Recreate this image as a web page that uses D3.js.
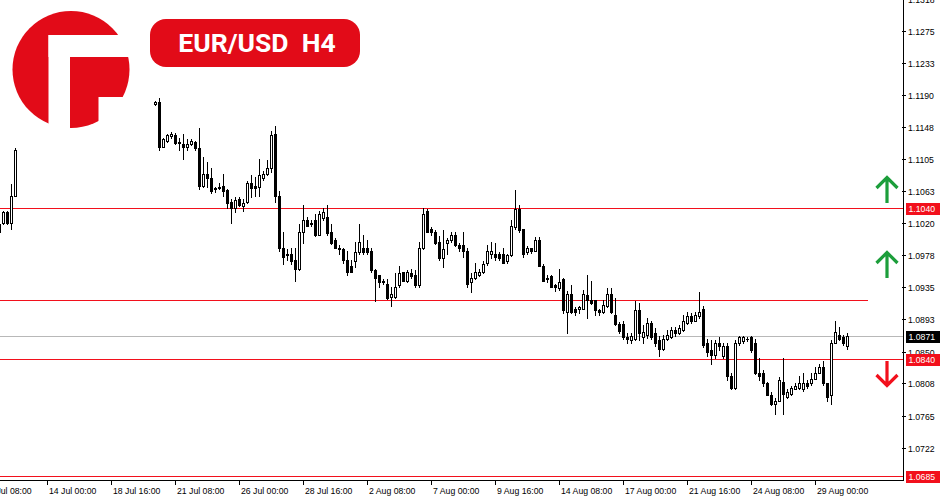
<!DOCTYPE html>
<html><head><meta charset="utf-8">
<script src="https://cdn.jsdelivr.net/npm/d3@7"></script>
<style>
html,body{margin:0;padding:0;background:#fff;}
svg{display:block;}
</style></head><body>
<svg id="chart" width="950" height="500"></svg>
<script>
// ---------------- data ----------------
const symbolTitle = "EUR/USD  H4";
const segmentStarts = ["2023-07-12 00:00", "2023-07-20 12:00"];
const segmentLengths = [5, 174];

const open = [
  1.1019,1.1020,1.1035,1.1020,1.1057,
  1.1179,1.1181,1.1122,1.1129,1.1136,1.1137,1.1128,1.1125,1.1121,1.1125,
  1.1128,1.1120,1.1069,1.1085,1.1080,1.1067,1.1068,1.1069,1.1064,1.1048,
  1.1040,1.1052,1.1043,1.1048,1.1073,1.1069,1.1068,1.1080,1.1086,1.1094,
  1.1138,1.1057,1.0988,1.0979,1.0979,1.0971,1.0960,1.1008,1.1024,1.1021,
  1.1025,1.1004,1.1027,1.1028,1.1008,1.0998,1.0988,1.0986,1.0972,1.0964,
  1.0970,1.0982,1.0988,1.0988,1.0983,1.0958,1.0951,1.0944,1.0939,1.0922,
  1.0922,1.0938,1.0955,1.0943,1.0954,1.0951,1.0938,1.0987,1.1036,1.1013,
  1.1008,1.0995,1.0974,1.0994,1.0998,1.1005,1.0991,1.0991,1.0984,1.0942,
  1.0947,1.0951,1.0955,1.0967,1.0980,1.0980,1.0979,1.0979,1.0970,1.0978,
  1.1015,1.1039,1.1012,1.0982,1.0987,1.0984,1.0998,1.0964,1.0948,1.0950,
  1.0938,1.0934,1.0946,1.0902,1.0927,1.0906,1.0906,1.0907,1.0925,1.0918,
  1.0918,1.0905,1.0902,1.0910,1.0926,1.0899,1.0886,1.0887,1.0870,1.0866,
  1.0867,1.0905,1.0869,1.0872,1.0888,1.0874,1.0865,1.0854,1.0867,1.0869,
  1.0878,1.0874,1.0878,1.0888,1.0897,1.0891,1.0897,1.0907,1.0862,1.0852,
  1.0845,1.0861,1.0844,1.0858,1.0818,1.0802,1.0861,1.0864,1.0867,1.0870,
  1.0862,1.0821,1.0821,1.0808,1.0793,1.0781,1.0785,1.0810,1.0790,1.0794,
  1.0801,1.0802,1.0800,1.0809,1.0808,1.0814,1.0822,1.0830,1.0808,1.0792,
  1.0862,1.0872,1.0869,1.0857
];
const high = [
  1.1021,1.1036,1.1036,1.1072,1.1120,
  1.1183,1.1186,1.1133,1.1138,1.1141,1.1140,1.1133,1.1138,1.1132,1.1132,
  1.1129,1.1146,1.1108,1.1102,1.1093,1.1068,1.1073,1.1085,1.1065,1.1052,
  1.1055,1.1055,1.1053,1.1076,1.1084,1.1081,1.1105,1.1089,1.1104,1.1142,
  1.1149,1.1063,1.1008,1.0986,1.0987,1.0988,1.1019,1.1045,1.1028,1.1025,
  1.1033,1.1036,1.1040,1.1044,1.1019,1.1000,1.0991,1.0987,1.0983,1.0972,
  1.0995,1.1019,1.1004,1.0998,1.0988,1.0960,1.0952,1.0946,1.0946,1.0935,
  1.0954,1.0963,1.0956,1.0958,1.0960,1.0958,1.0996,1.1040,1.1039,1.1015,
  1.1011,1.1003,1.1011,1.1000,1.1008,1.1008,1.0994,1.1008,1.0987,1.0954,
  1.0968,1.0960,1.0970,1.0991,1.0995,1.0994,1.0982,1.0988,1.0979,1.1024,
  1.1064,1.1044,1.1013,1.0990,1.0988,1.1002,1.1002,1.0966,1.0951,1.0952,
  1.0939,1.0959,1.0947,1.0931,1.0938,1.0909,1.0911,1.0932,1.0951,1.0944,
  1.0919,1.0907,1.0918,1.0934,1.0934,1.0921,1.0889,1.0891,1.0874,1.0875,
  1.0917,1.0915,1.0885,1.0895,1.0891,1.0881,1.0871,1.0872,1.0878,1.0883,
  1.0882,1.0885,1.0899,1.0902,1.0901,1.0903,1.0929,1.0910,1.0867,1.0865,
  1.0865,1.0869,1.0862,1.0861,1.0822,1.0865,1.0871,1.0871,1.0870,1.0871,
  1.0867,1.0841,1.0825,1.0810,1.0796,1.0788,1.0816,1.0841,1.0800,1.0805,
  1.0809,1.0818,1.0821,1.0812,1.0821,1.0829,1.0834,1.0838,1.0809,1.0865,
  1.0890,1.0883,1.0872,1.0875
];
const low = [
  1.1003,1.1019,1.1019,1.1012,1.1056,
  1.1177,1.1118,1.1121,1.1128,1.1133,1.1125,1.1117,1.1106,1.1118,1.1124,
  1.1118,1.1065,1.1068,1.1068,1.1060,1.1061,1.1065,1.1057,1.1040,1.1020,
  1.1035,1.1043,1.1036,1.1047,1.1055,1.1056,1.1057,1.1077,1.1084,1.1088,
  1.1048,1.0983,1.0966,1.0972,1.0966,1.0943,1.0958,1.0994,1.1016,1.1017,
  1.1003,1.1004,1.1025,1.1005,1.0993,1.0987,1.0979,1.0968,1.0952,1.0955,
  1.0962,1.0980,1.0979,1.0980,1.0956,1.0917,1.0936,1.0939,1.0920,1.0910,
  1.0921,1.0936,1.0943,1.0942,1.0948,1.0936,1.0935,1.0986,1.1008,1.1005,
  1.0993,1.0971,1.0962,1.0980,1.0996,1.0990,1.0983,1.0975,1.0935,1.0929,
  1.0946,1.0950,1.0954,1.0965,1.0974,1.0972,1.0972,1.0967,1.0968,1.0977,
  1.1013,1.1008,1.0975,1.0980,1.0981,1.0983,1.0963,1.0943,1.0942,1.0935,
  1.0931,1.0932,1.0901,1.0874,1.0901,1.0899,1.0901,1.0906,1.0895,1.0913,
  1.0898,1.0899,1.0901,1.0909,1.0901,1.0885,1.0875,1.0867,1.0861,1.0862,
  1.0866,1.0865,1.0861,1.0868,1.0867,1.0858,1.0844,1.0852,1.0866,1.0868,
  1.0871,1.0873,1.0877,1.0887,1.0888,1.0890,1.0895,1.0856,1.0844,1.0833,
  1.0842,1.0852,1.0841,1.0812,1.0800,1.0801,1.0859,1.0861,1.0864,1.0849,
  1.0820,1.0812,1.0805,1.0792,1.0779,1.0767,1.0784,1.0767,1.0789,1.0793,
  1.0800,1.0801,1.0798,1.0802,1.0806,1.0813,1.0821,1.0806,1.0785,1.0781,
  1.0861,1.0866,1.0859,1.0854
];
const close = [
  1.1008,1.1035,1.1020,1.1057,1.1118,
  1.1181,1.1122,1.1132,1.1137,1.1138,1.1126,1.1127,1.1121,1.1125,1.1129,
  1.1120,1.1069,1.1086,1.1080,1.1063,1.1066,1.1067,1.1063,1.1047,1.1040,
  1.1051,1.1044,1.1047,1.1074,1.1067,1.1067,1.1084,1.1085,1.1094,1.1137,
  1.1056,1.0988,1.0975,1.0978,1.0970,1.0960,1.1008,1.1024,1.1017,1.1019,
  1.1004,1.1033,1.1035,1.1007,1.0994,1.0988,1.0986,1.0972,1.0955,1.0956,
  1.0982,1.0995,1.0982,1.0982,1.0958,1.0948,1.0942,1.0942,1.0921,1.0927,
  1.0935,1.0954,1.0944,1.0955,1.0950,1.0938,1.0987,1.1032,1.1009,1.1008,
  1.0994,1.0974,1.0986,1.0998,1.1005,1.0991,1.0988,1.0983,1.0940,1.0947,
  1.0955,1.0956,1.0966,1.0983,1.0983,1.0975,1.0974,1.0968,1.0978,1.1017,
  1.1039,1.1011,1.0979,1.0987,1.0983,1.0998,1.0964,1.0944,1.0946,1.0936,
  1.0935,1.0942,1.0905,1.0927,1.0902,1.0902,1.0909,1.0926,1.0918,1.0915,
  1.0905,1.0902,1.0912,1.0926,1.0902,1.0886,1.0877,1.0870,1.0867,1.0871,
  1.0905,1.0874,1.0876,1.0888,1.0869,1.0861,1.0853,1.0867,1.0872,1.0878,
  1.0874,1.0881,1.0890,1.0897,1.0891,1.0898,1.0903,1.0859,1.0849,1.0845,
  1.0861,1.0857,1.0858,1.0818,1.0802,1.0861,1.0869,1.0869,1.0867,1.0852,
  1.0821,1.0817,1.0808,1.0793,1.0780,1.0785,1.0812,1.0794,1.0797,1.0802,
  1.0805,1.0808,1.0809,1.0804,1.0814,1.0822,1.0830,1.0808,1.0790,1.0861,
  1.0876,1.0867,1.0861,1.0871
];

const priceTicks = [1.1318,1.1275,1.1233,1.1190,1.1148,1.1105,1.1063,1.1020,1.0978,1.0935,1.0893,1.0850,1.0808,1.0765,1.0722];
const timeTicks = ["11 Jul 08:00","14 Jul 00:00","18 Jul 16:00","21 Jul 08:00","26 Jul 00:00","28 Jul 16:00","2 Aug 08:00","7 Aug 00:00","9 Aug 16:00","14 Aug 08:00","17 Aug 00:00","21 Aug 16:00","24 Aug 08:00","29 Aug 00:00"];
const fullLevels = [1.1040, 1.0840, 1.0685];   // red lines with price boxes
const shortLevels = [1.0919];                  // red line ending before arrows
const currentPrice = 1.0871;
const upArrowLevels = [1.1063, 1.0963];
const downArrowLevels = [1.0822];

// ---------------- helpers ----------------
const MS_DAY = 864e5, REF = Date.UTC(2023, 6, 14);
const MONTHS = {Jan:0,Feb:1,Mar:2,Apr:3,May:4,Jun:5,Jul:6,Aug:7,Sep:8,Oct:9,Nov:10,Dec:11};
function parseIso(s){const [d,t]=s.split(" ");const [Y,M,D]=d.split("-").map(Number);const [h,m]=t.split(":").map(Number);return Date.UTC(Y,M-1,D,h,m);}
function parseTick(s){const [D,Mo,t]=s.split(" ");const [h,m]=t.split(":").map(Number);return Date.UTC(2023,MONTHS[Mo],+D,h,m);}
function barIndex(ms){
  const day = Math.floor(ms/MS_DAY)*MS_DAY, hours=(ms-day)/36e5;
  let n=0;
  const wk = t => {const w=new Date(t).getUTCDay();return w!==0&&w!==6;};
  if(day>=REF){for(let t=REF;t<day;t+=MS_DAY) if(wk(t)) n++;}
  else {for(let t=day;t<REF;t+=MS_DAY) if(wk(t)) n--;}
  return n*6+hours/4;
}
const candles=[]; let k=0;
segmentStarts.forEach((s,si)=>{const b0=barIndex(parseIso(s));for(let j=0;j<segmentLengths[si];j++,k++){candles.push({bar:b0+j,o:open[k],h:high[k],l:low[k],c:close[k]});}});

// ---------------- scales ----------------
const W=950,H=500, axisX=903.5, axisY=480.5;
const x = d3.scaleLinear().domain([0,200]).range([47.5,847.5]);
const y = d3.scaleLinear().domain([1.13163,1.067969]).range([0,480]);
const py = v => Math.round(y(v));

const svg = d3.select("#chart");
svg.append("rect").attr("width",W).attr("height",H).attr("fill","#fff");
const FONT = "'Liberation Sans', Arial, sans-serif";
const RED = "#f2101c", LOGO_RED="#e20b18";

// level lines
const lines = svg.append("g").attr("shape-rendering","crispEdges");
lines.append("line").attr("x1",0).attr("x2",axisX).attr("y1",py(currentPrice)+0.5).attr("y2",py(currentPrice)+0.5).attr("stroke","#b8b8b8");
lines.selectAll("line.full").data(fullLevels).join("line").attr("class","full")
  .attr("x1",0).attr("x2",axisX).attr("y1",d=>py(d)+0.5).attr("y2",d=>py(d)+0.5).attr("stroke",RED);
lines.selectAll("line.short").data(shortLevels).join("line").attr("class","short")
  .attr("x1",0).attr("x2",868).attr("y1",d=>py(d)+0.5).attr("y2",d=>py(d)+0.5).attr("stroke",RED);

// candles
const cg = svg.append("g").attr("shape-rendering","crispEdges");
cg.selectAll("line.wick").data(candles).join("line").attr("class","wick")
  .attr("x1",d=>x(d.bar)).attr("x2",d=>x(d.bar))
  .attr("y1",d=>py(Math.max(d.h,d.o,d.c))).attr("y2",d=>py(Math.min(d.l,d.o,d.c))+1)
  .attr("stroke","#000").attr("stroke-width",1);
const bodies = cg.selectAll("g.body").data(candles).join("g").attr("class","body");
bodies.each(function(d){
  const g=d3.select(this), cx=x(d.bar);
  const yo=py(d.o), yc=py(d.c), top=Math.min(yo,yc), bot=Math.max(yo,yc);
  if(d.c<d.o || bot-top<1){
    g.append("rect").attr("x",cx-1.5).attr("y",top).attr("width",3).attr("height",bot-top+1).attr("fill","#000");
  } else {
    g.append("rect").attr("x",cx-1).attr("y",top+0.5).attr("width",2).attr("height",bot-top)
      .attr("fill","#fff").attr("stroke","#000").attr("stroke-width",1);
  }
});

// axes
const ax = svg.append("g").attr("shape-rendering","crispEdges");
ax.append("line").attr("x1",axisX).attr("x2",axisX).attr("y1",0).attr("y2",axisY).attr("stroke","#000");
ax.append("line").attr("x1",0).attr("x2",axisX+0.5).attr("y1",axisY).attr("y2",axisY).attr("stroke","#000");
ax.selectAll("line.pt").data(priceTicks).join("line").attr("class","pt")
  .attr("x1",902).attr("x2",906).attr("y1",d=>py(d)+0.5).attr("y2",d=>py(d)+0.5).attr("stroke","#000");
svg.append("g").selectAll("text").data(priceTicks).join("text")
  .attr("x",908).attr("y",d=>py(d)+0.5).attr("dy","0.35em")
  .attr("font-family",FONT).attr("font-size",8.7).attr("fill","#000").text(d=>d.toFixed(4));
ax.selectAll("line.tt").data(timeTicks).join("line").attr("class","tt")
  .attr("x1",d=>x(barIndex(parseTick(d)))).attr("x2",d=>x(barIndex(parseTick(d))))
  .attr("y1",axisY).attr("y2",485).attr("stroke","#000");
svg.append("g").selectAll("text").data(timeTicks).join("text")
  .attr("x",d=>x(barIndex(parseTick(d)))+1.5).attr("y",493.5)
  .attr("font-family",FONT).attr("font-size",8.7).attr("fill","#000").text(d=>d);

// price boxes
const boxes = [{v:currentPrice,fill:"#000"}].concat(fullLevels.map(v=>({v,fill:RED})));
const bg = svg.append("g");
bg.selectAll("rect").data(boxes).join("rect").attr("shape-rendering","crispEdges")
  .attr("x",906).attr("y",d=>py(d.v)-5).attr("width",34).attr("height",12).attr("fill",d=>d.fill);
bg.selectAll("text").data(boxes).join("text")
  .attr("x",908.5).attr("y",d=>py(d.v)+1).attr("dy","0.35em")
  .attr("font-family",FONT).attr("font-size",8.7).attr("fill","#fff").text(d=>d.v.toFixed(4));

// arrows
const GREEN="#1c9e3b";
const ar = svg.append("g").attr("fill","none").attr("stroke-width",3.2).attr("stroke-linejoin","miter");
upArrowLevels.forEach(v=>{const t=py(v)-15;
  ar.append("path").attr("stroke",GREEN).attr("d",`M887,${t+1.5}V${t+27}M876.5,${t+12}L887,${t+1.5}L897.5,${t+12}`);});
downArrowLevels.forEach(v=>{const b=py(v)+14;
  ar.append("path").attr("stroke",RED).attr("d",`M887,${b-1.5}V${b-26}M876.5,${b-12}L887,${b-1.5}L897.5,${b-12}`);});

// logo
const lg = svg.append("g");
lg.append("circle").attr("cx",71).attr("cy",69.5).attr("r",58.5).attr("fill",LOGO_RED);
lg.append("rect").attr("x",48.5).attr("y",35).attr("width",21.5).attr("height",100).attr("fill","#fff");
lg.append("rect").attr("x",48.5).attr("y",35).attr("width",90).attr("height",22).attr("fill","#fff");
lg.append("rect").attr("x",98.5).attr("y",97).attr("width",40).attr("height",40).attr("fill","#fff");

// title badge
svg.append("rect").attr("x",150).attr("y",19).attr("width",210).attr("height",48).attr("rx",16).attr("fill",LOGO_RED);
svg.append("text").attr("x",257).attr("y",52).attr("text-anchor","middle")
  .attr("font-family","Roboto, 'Liberation Sans', Arial, sans-serif").attr("font-weight","bold")
  .attr("font-size",26.5).attr("fill","#fff").style("white-space","pre").text(symbolTitle);
</script>
</body></html>
